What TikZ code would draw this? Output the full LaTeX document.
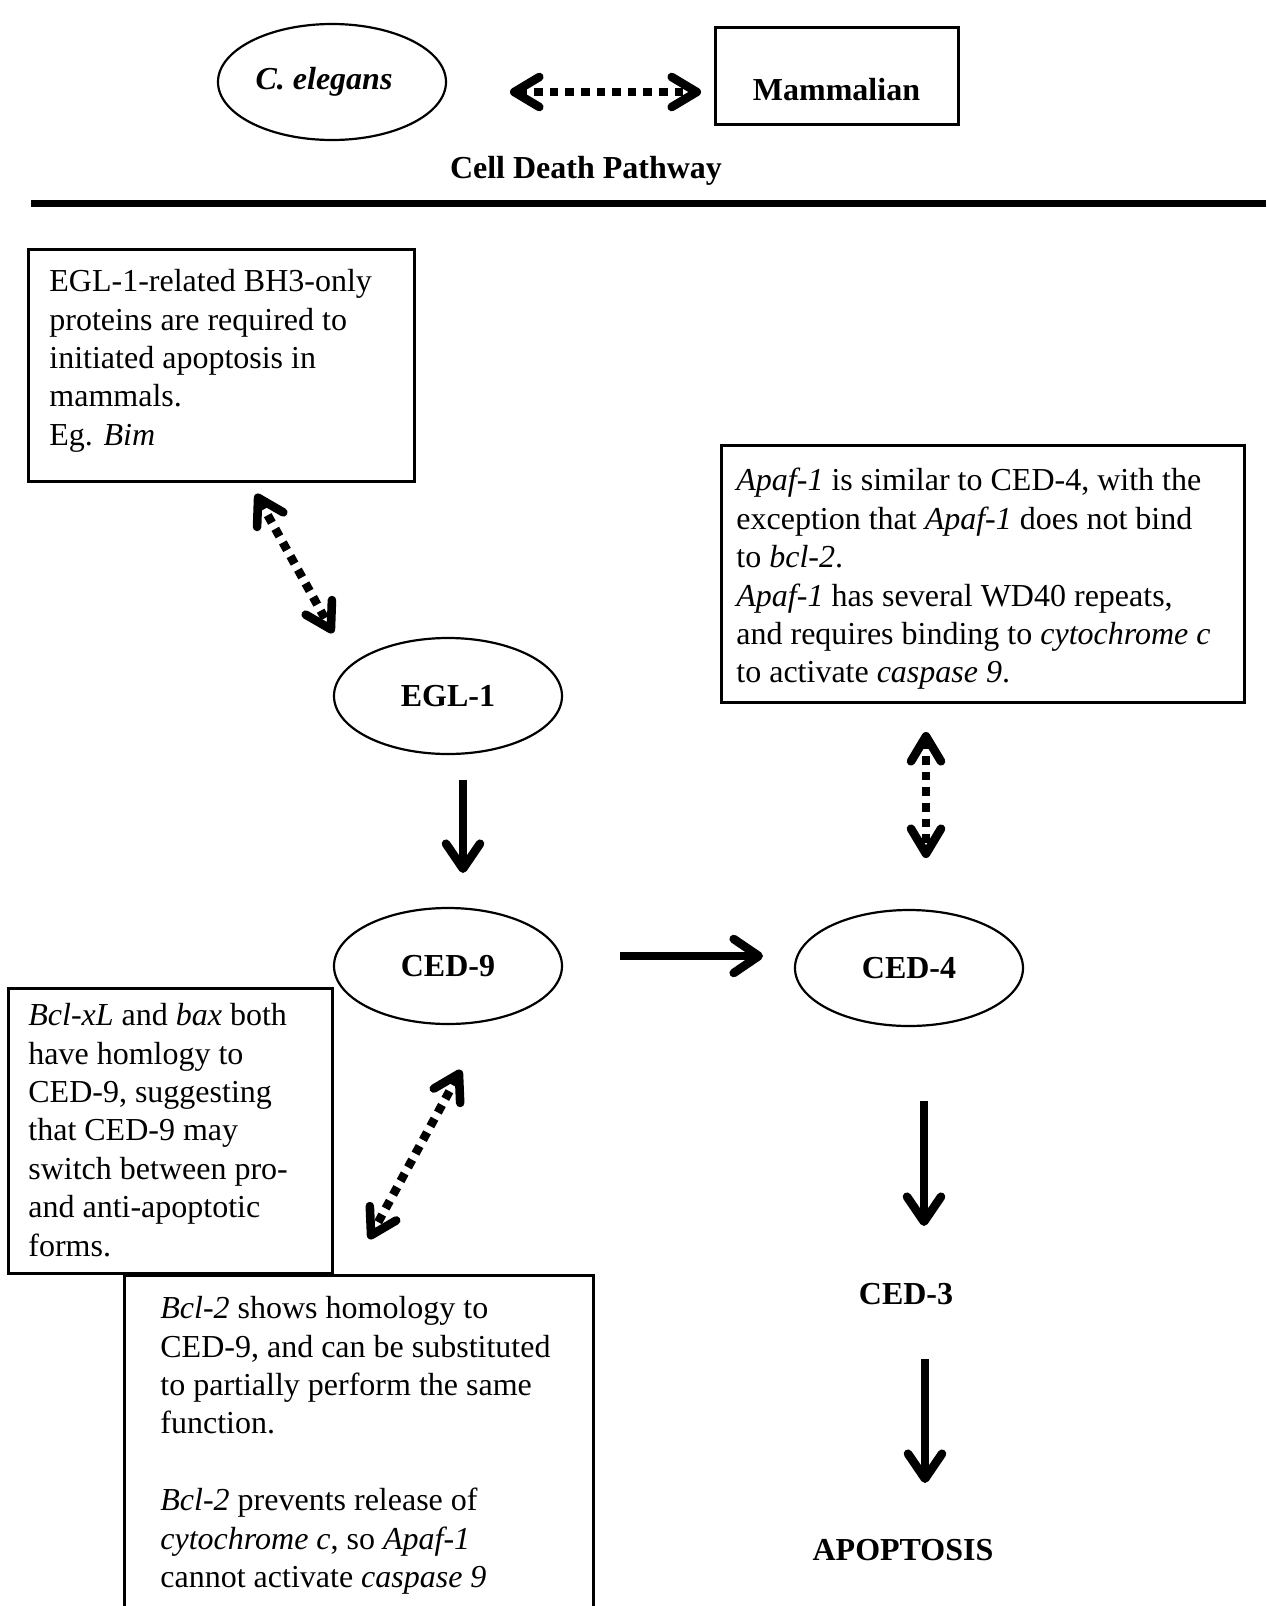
\documentclass[tikz,border=0pt]{standalone}
\usepackage{fontspec}
\setmainfont{Liberation Serif}
\usetikzlibrary{arrows.meta,shapes.geometric}
\begin{document}
\begin{tikzpicture}[x=0.5pt,y=-0.5pt,
  txt/.style={font=\fontsize{16}{19.2}\selectfont, align=left, anchor=north west, inner sep=0pt},
  lbl/.style={font=\fontsize{16}{19.2}\selectfont\bfseries, inner sep=0pt},
  oval/.style={draw, ellipse, line width=1.1pt, minimum width=114pt, minimum height=58pt, inner sep=0pt,
               font=\fontsize{16}{19.2}\selectfont\bfseries},
  box/.style={draw, line width=1.5pt, rectangle, inner sep=0pt, anchor=north west},
  sarrow/.style={line width=4.3pt, -{Straight Barb[length=12.5pt,width=17pt,round]}},
  darrow/.style={line width=4.3pt, dash pattern=on 4.3pt off 3.5pt,
                 {Straight Barb[length=12.5pt,width=15pt,round]}-{Straight Barb[length=12.5pt,width=15pt,round]}},
  rule/.style={line width=3.5pt}
]
\useasboundingbox (0,0) rectangle (1266,1606);

% header
\node[oval] (cel) at (332,82) {\textit{C. elegans}\kern8pt\mbox{}};
\node[draw, line width=1.5pt, minimum width=121.5pt, minimum height=48.5pt, inner sep=0pt,
      font=\fontsize{16}{19.2}\selectfont\bfseries, text height=25pt, text depth=0pt] (mam) at (836.5,75.5) {Mammalian};
\coordinate (h1) at (510,92);
\coordinate (h2) at (701,92);
\draw[darrow] (h1) -- (h2);
\node[lbl] (cdp) at (586,171) {Cell Death Pathway};
\coordinate (r1) at (31,203);
\coordinate (r2) at (1266,203);
\draw[rule] (r1) -- (r2);

% box 1
\node[box, minimum width=193pt, minimum height=116pt] (b1) at (27,248) {};
\node[txt] (t1) at (49,269) {EGL-1-related BH3-only\\
proteins are required to\\
initiated apoptosis in\\
mammals.\\
Eg. \textit{Bim}};

% Apaf box
\node[box, minimum width=261.5pt, minimum height=128.5pt] (b2) at (720,444) {};
\node[txt] (t2) at (736,468) {\textit{Apaf-1} is similar to CED-4, with the\\
exception that \textit{Apaf-1} does not bind\\
to \textit{bcl-2}.\\
\textit{Apaf-1} has several WD40 repeats,\\
and requires binding to \textit{cytochrome c}\\
to activate \textit{caspase 9}.};

% Bcl-xL box
\node[box, minimum width=162pt, minimum height=142.5pt] (b3) at (7,987) {};
\node[txt] (t3) at (28,1003) {\textit{Bcl-xL} and \textit{bax} both\\
have homlogy to\\
CED-9, suggesting\\
that CED-9 may\\
switch between pro-\\
and anti-apoptotic\\
forms.};

% Bcl-2 box (runs off the bottom)
\draw[line width=1.5pt] (124,1620) -- (124,1275) -- (593,1275) -- (593,1620);
\node[txt] (t4) at (160,1296) {\textit{Bcl-2} shows homology to\\
CED-9, and can be substituted\\
to partially perform the same\\
function.\\[19.2pt]
\textit{Bcl-2} prevents release of\\
\textit{cytochrome c}, so \textit{Apaf-1}\\
cannot activate \textit{caspase 9}};

% pathway nodes
\node[oval] (egl) at (448,696) {EGL-1};
\node[oval] (ced9) at (448,966) {CED-9};
\node[oval] (ced4) at (909,968) {CED-4};
\node[lbl] (ced3) at (906,1294) {CED-3};
\node[lbl] (apo) at (903,1550) {APOPTOSIS};

% connectors
\coordinate (d1a) at (256,494); \coordinate (d1b) at (333,633);
\draw[darrow] (d1a) -- (d1b);
\coordinate (d2a) at (926,732); \coordinate (d2b) at (926,858);
\draw[darrow] (d2a) -- (d2b);
\coordinate (d3a) at (461,1070); \coordinate (d3b) at (369,1239);
\draw[darrow] (d3a) -- (d3b);

\coordinate (s1a) at (463,780); \coordinate (s1b) at (463,873);
\draw[sarrow] (s1a) -- (s1b);
\coordinate (s2a) at (620,956); \coordinate (s2b) at (763,956);
\draw[sarrow] (s2a) -- (s2b);
\coordinate (s3a) at (924,1101); \coordinate (s3b) at (924,1226);
\draw[sarrow] (s3a) -- (s3b);
\coordinate (s4a) at (925,1359); \coordinate (s4b) at (925,1483);
\draw[sarrow] (s4a) -- (s4b);
\end{tikzpicture}
\end{document}
